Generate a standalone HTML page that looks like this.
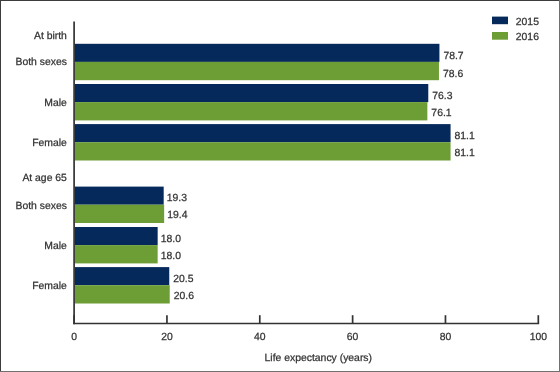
<!DOCTYPE html>
<html><head><meta charset="utf-8"><style>
html,body{margin:0;padding:0;background:#fff;}
svg{display:block;will-change:transform;}
text{font-family:"Liberation Sans",sans-serif;font-size:10.4px;fill:#333;stroke:#333;stroke-width:0.25px;text-rendering:geometricPrecision;}
</style></head><body>
<svg width="560" height="372" viewBox="0 0 560 372">
<rect x="0" y="0" width="560" height="372" fill="#fff"/>
<rect x="74.9" y="43.8" width="364.53" height="18.1" fill="#05295b"/>
<rect x="74.9" y="61.9" width="364.06" height="18.3" fill="#6d9d35"/>
<rect x="74.9" y="84.0" width="353.38" height="18.1" fill="#05295b"/>
<rect x="74.9" y="102.1" width="352.46" height="18.3" fill="#6d9d35"/>
<rect x="74.9" y="124.1" width="375.67" height="18.1" fill="#05295b"/>
<rect x="74.9" y="142.2" width="375.67" height="18.3" fill="#6d9d35"/>
<rect x="74.9" y="186.6" width="88.79" height="18.1" fill="#05295b"/>
<rect x="74.9" y="204.7" width="89.25" height="18.3" fill="#6d9d35"/>
<rect x="74.9" y="227.0" width="82.76" height="18.1" fill="#05295b"/>
<rect x="74.9" y="245.1" width="82.76" height="18.3" fill="#6d9d35"/>
<rect x="74.9" y="267.1" width="94.36" height="18.1" fill="#05295b"/>
<rect x="74.9" y="285.20000000000005" width="94.83" height="18.3" fill="#6d9d35"/>
<text x="443.43" y="59">78.7</text>
<text x="442.96" y="77">78.6</text>
<text x="432.28" y="99">76.3</text>
<text x="431.36" y="116">76.1</text>
<text x="454.57" y="139">81.1</text>
<text x="454.57" y="156">81.1</text>
<text x="166.79" y="201">19.3</text>
<text x="167.25" y="218">19.4</text>
<text x="160.76" y="242">18.0</text>
<text x="160.76" y="259">18.0</text>
<text x="173.26" y="282">20.5</text>
<text x="173.73" y="299">20.6</text>
<text x="66.9" y="39" text-anchor="end">At birth</text>
<text x="66.9" y="65" text-anchor="end">Both sexes</text>
<text x="66.9" y="106" text-anchor="end">Male</text>
<text x="66.9" y="146" text-anchor="end">Female</text>
<text x="66.9" y="181" text-anchor="end">At age 65</text>
<text x="66.9" y="209" text-anchor="end">Both sexes</text>
<text x="66.9" y="249" text-anchor="end">Male</text>
<text x="66.9" y="289" text-anchor="end">Female</text>
<line x1="74.1" y1="21.6" x2="74.1" y2="324.3" stroke="#333" stroke-width="1.7"/>
<line x1="73.25" y1="323.5" x2="539.15" y2="323.5" stroke="#333" stroke-width="1.7"/>
<line x1="74.10" y1="315.2" x2="74.10" y2="323.5" stroke="#333" stroke-width="1.7"/>
<text x="74.10" y="340" text-anchor="middle">0</text>
<line x1="166.94" y1="315.2" x2="166.94" y2="323.5" stroke="#333" stroke-width="1.7"/>
<text x="166.94" y="340" text-anchor="middle">20</text>
<line x1="259.78" y1="315.2" x2="259.78" y2="323.5" stroke="#333" stroke-width="1.7"/>
<text x="259.78" y="340" text-anchor="middle">40</text>
<line x1="352.62" y1="315.2" x2="352.62" y2="323.5" stroke="#333" stroke-width="1.7"/>
<text x="352.62" y="340" text-anchor="middle">60</text>
<line x1="445.46" y1="315.2" x2="445.46" y2="323.5" stroke="#333" stroke-width="1.7"/>
<text x="445.46" y="340" text-anchor="middle">80</text>
<line x1="538.30" y1="315.2" x2="538.30" y2="323.5" stroke="#333" stroke-width="1.7"/>
<text x="538.30" y="340" text-anchor="middle">100</text>
<text x="318.3" y="361" text-anchor="middle">Life expectancy (years)</text>
<rect x="492" y="16.6" width="16" height="7.6" fill="#05295b"/>
<rect x="492" y="32" width="16" height="7.7" fill="#6d9d35"/>
<text x="515.8" y="24.8">2015</text>
<text x="515.8" y="39.8">2016</text>
<rect x="0" y="0" width="560" height="1" fill="#3c3c3c"/>
<rect x="0" y="0" width="1" height="372" fill="#3c3c3c"/>
<rect x="559" y="0" width="1" height="372" fill="#707070"/>
<rect x="0" y="371" width="560" height="1" fill="#707070"/>
</svg>
</body></html>
